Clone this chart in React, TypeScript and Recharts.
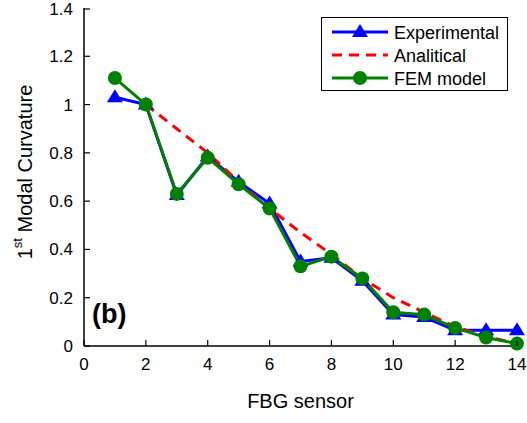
import { LineChart, Line, XAxis, YAxis } from 'recharts'

const sensors = [1, 2, 3, 4, 5, 6, 7, 8, 9, 10, 11, 12, 13, 14]
const experimental = [1.03, 1.0, 0.625, 0.785, 0.68, 0.59, 0.35, 0.365, 0.27, 0.13, 0.12, 0.065, 0.065, 0.065]
const analitical = [null, 1.0, 0.9, 0.8, 0.68, 0.57, 0.47, 0.38, 0.28, 0.2, 0.14, 0.08, 0.04, 0.01]
const fem = [1.11, 1.0, 0.63, 0.78, 0.67, 0.57, 0.33, 0.37, 0.28, 0.14, 0.13, 0.075, 0.035, 0.01]

const xTicks = [0, 2, 4, 6, 8, 10, 12, 14]
const yTicks = [0, 0.2, 0.4, 0.6, 0.8, 1, 1.2, 1.4]

const data = sensors.map((x, i) => ({
  x,
  exp: experimental[i],
  ana: analitical[i],
  fem: fem[i],
}))

const series = [
  { key: 'exp', label: 'Experimental', color: '#0000FF', marker: 'triangle', dash: undefined },
  { key: 'ana', label: 'Analitical', color: '#FF0000', marker: 'none', dash: '10 7' },
  { key: 'fem', label: 'FEM model', color: '#008000', marker: 'circle', dash: undefined },
]

const font = '"Liberation Sans", Arial, sans-serif'
const tickFont = 17
const labelFont = 20
const legendFont = 18

function Triangle({ cx, cy, color }: { cx: number; cy: number; color: string }) {
  const w = 8
  const h = 13
  return (
    <polygon
      points={`${cx},${cy - h * 0.62} ${cx - w},${cy + h * 0.38} ${cx + w},${cy + h * 0.38}`}
      fill={color}
    />
  )
}

const BottomTick = (props: any) => {
  const { x, y, payload } = props
  return (
    <g>
      <line x1={x} x2={x} y1={y} y2={y - 6} stroke="#000" strokeWidth={1.2} />
      <text x={x} y={y + 24} textAnchor="middle" fontSize={tickFont} fontFamily={font} fill="#000">
        {payload.value}
      </text>
    </g>
  )
}

const TopTick = (props: any) => {
  const { x, y } = props
  return <line x1={x} x2={x} y1={y} y2={y + 6} stroke="#000" strokeWidth={1.2} />
}

const LeftTick = (props: any) => {
  const { x, y, payload } = props
  return (
    <g>
      <line x1={x} x2={x + 6} y1={y} y2={y} stroke="#000" strokeWidth={1.2} />
      <text x={x - 11} y={y + 6} textAnchor="end" fontSize={tickFont} fontFamily={font} fill="#000">
        {payload.value}
      </text>
    </g>
  )
}

const RightTick = (props: any) => {
  const { x, y } = props
  return <line x1={x} x2={x - 6} y1={y} y2={y} stroke="#000" strokeWidth={1.2} />
}

function Legend() {
  return (
    <div
      style={{
        position: 'absolute',
        left: 321,
        top: 17,
        width: 187,
        height: 74,
        border: '1.5px solid #000',
        background: '#fff',
        boxSizing: 'border-box',
      }}
    >
      <svg width={187} height={74} style={{ position: 'absolute', left: 0, top: 0 }}>
        {series.map((s, i) => {
          const cy = 14 + i * 23
          return (
            <g key={s.key}>
              <line x1={10} x2={66} y1={cy} y2={cy} stroke={s.color} strokeWidth={3} strokeDasharray={s.dash} />
              {s.marker === 'triangle' && <Triangle cx={38} cy={cy} color={s.color} />}
              {s.marker === 'circle' && <circle cx={38} cy={cy} r={7} fill={s.color} />}
              <text x={72} y={cy + 6.5} fontSize={legendFont} fontFamily={font} fill="#000">
                {s.label}
              </text>
            </g>
          )
        })}
      </svg>
    </div>
  )
}

export default function App() {
  return (
    <div style={{ position: 'absolute', left: 0, top: 0, width: 527, height: 423, background: '#fff' }}>
      <LineChart width={527} height={423} data={data} margin={{ top: 8, right: 10, bottom: 47, left: 44 }}>
        <XAxis
          dataKey="x"
          type="number"
          domain={[0, 14]}
          ticks={xTicks}
          height={30}
          tickSize={0}
          tickMargin={0}
          tick={<BottomTick />}
          axisLine={{ stroke: '#000', strokeWidth: 1.5 }}
          label={{
            content: ({ viewBox }: any) => (
              <text
                x={viewBox.x + viewBox.width / 2}
                y={viewBox.y + 62}
                textAnchor="middle"
                fontSize={labelFont}
                fontFamily={font}
                fill="#000"
              >
                FBG sensor
              </text>
            ),
          }}
        />
        <XAxis
          xAxisId="top"
          orientation="top"
          dataKey="x"
          type="number"
          domain={[0, 14]}
          ticks={xTicks}
          height={0}
          tickSize={0}
          tickMargin={0}
          tick={<TopTick />}
          axisLine={{ stroke: '#000', strokeWidth: 1.5 }}
        />
        <YAxis
          type="number"
          domain={[0, 1.4]}
          ticks={yTicks}
          width={40}
          tickSize={0}
          tickMargin={0}
          tick={<LeftTick />}
          axisLine={{ stroke: '#000', strokeWidth: 1.5 }}
          label={{
            content: ({ viewBox }: any) => {
              const cx = 25
              const cy = viewBox.y + viewBox.height / 2 - 5
              return (
                <text
                  x={cx}
                  y={cy}
                  transform={`rotate(-90, ${cx}, ${cy})`}
                  textAnchor="middle"
                  dominantBaseline="central"
                  fontSize={labelFont}
                  fontFamily={font}
                  fill="#000"
                >
                  <tspan>1</tspan>
                  <tspan dy={-8} fontSize={13}>st</tspan>
                  <tspan dy={8}> Modal Curvature</tspan>
                </text>
              )
            },
          }}
        />
        <YAxis
          yAxisId="right"
          orientation="right"
          type="number"
          domain={[0, 1.4]}
          ticks={yTicks}
          width={0}
          tickSize={0}
          tickMargin={0}
          tick={<RightTick />}
          axisLine={{ stroke: '#000', strokeWidth: 1.5 }}
        />
        {series.map((s) => (
          <Line
            key={s.key}
            dataKey={s.key}
            type="linear"
            stroke={s.color}
            strokeWidth={3}
            strokeDasharray={s.dash}
            isAnimationActive={false}
            connectNulls={false}
            activeDot={false}
            dot={
              s.marker === 'none'
                ? false
                : (p: any) =>
                    s.marker === 'triangle' ? (
                      <Triangle key={p.index} cx={p.cx} cy={p.cy} color={s.color} />
                    ) : (
                      <circle key={p.index} cx={p.cx} cy={p.cy} r={7} fill={s.color} />
                    )
            }
          />
        ))}
      </LineChart>
      <Legend />
      <div
        style={{
          position: 'absolute',
          left: 92,
          top: 301,
          fontFamily: font,
          fontSize: 27,
          fontWeight: 'bold',
          lineHeight: '27px',
        }}
      >
        (b)
      </div>
    </div>
  )
}
